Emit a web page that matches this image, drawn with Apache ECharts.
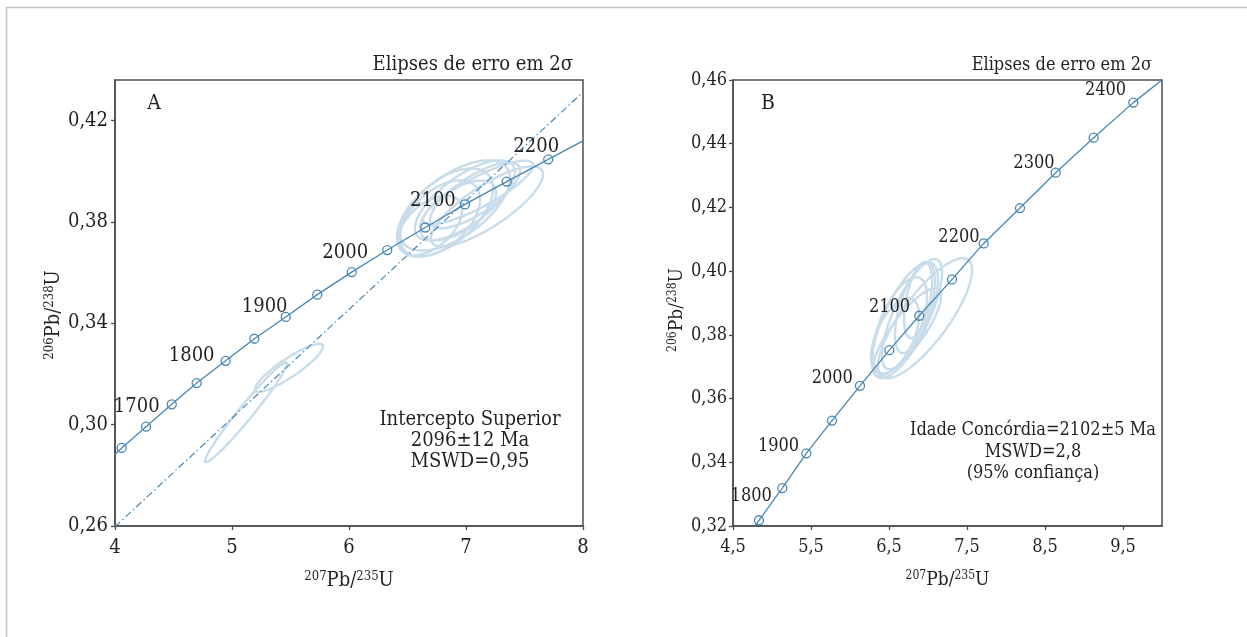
<!DOCTYPE html>
<html>
<head>
<meta charset="utf-8">
<script src="https://cdn.jsdelivr.net/npm/echarts@6/dist/echarts.min.js"></script>
<style>
html,body{margin:0;padding:0;background:#ffffff;}
#chart{width:1247px;height:637px;}
</style>
</head>
<body>
<div id="chart"></div>
<script>
// ---------------- DATA ----------------
// Panel A
const xTicksA = [4, 5, 6, 7, 8];
const yTicksA = [0.26, 0.30, 0.34, 0.38, 0.42];
const concordiaAX = [4.057, 4.265, 4.485, 4.698, 4.946, 5.191, 5.459, 5.729, 6.023, 6.327, 6.652, 6.991, 7.348, 7.703];
const concordiaAY = [0.2908, 0.2992, 0.3080, 0.3164, 0.3252, 0.3339, 0.3425, 0.3513, 0.3602, 0.3689, 0.3778, 0.3869, 0.3959, 0.4047];
const concordiaALabels = ['', '', '1700', '', '1800', '', '1900', '', '', '2000', '', '2100', '', '2200'];
const curveEndsAX = [4.0, 8.0];
const curveEndsAY = [0.2882, 0.4120];
const discordiaAX = [4.0, 8.0];
const discordiaAY = [0.2597, 0.4312];
const ellipseACx  = [7.179, 6.906, 6.821, 6.991, 6.778, 7.077, 6.692, 7.103, 6.932, 5.120, 5.487];
const ellipseACy  = [0.3861, 0.3865, 0.3837, 0.3885, 0.3814, 0.3905, 0.3786, 0.3916, 0.3845, 0.3049, 0.3224];
const ellipseASx  = [0.479, 0.470, 0.410, 0.427, 0.342, 0.385, 0.274, 0.470, 0.325, 0.350, 0.291];
const ellipseASy  = [0.0158, 0.0178, 0.0174, 0.0158, 0.0150, 0.0130, 0.0118, 0.0126, 0.0118, 0.0197, 0.00947];
const ellipseARho = [0.80, 0.60, 0.55, 0.70, 0.50, 0.75, 0.50, 0.85, 0.60, 0.975, 0.89];

// Panel B
const xTicksB = [4.5, 5.5, 6.5, 7.5, 8.5, 9.5];
const yTicksB = [0.32, 0.34, 0.36, 0.38, 0.40, 0.42, 0.44, 0.46];
const concordiaBX = [4.833, 5.132, 5.440, 5.769, 6.128, 6.504, 6.888, 7.308, 7.714, 8.179, 8.637, 9.124, 9.632];
const concordiaBY = [0.3218, 0.3319, 0.3428, 0.3531, 0.3640, 0.3752, 0.3860, 0.3974, 0.4087, 0.4198, 0.4309, 0.4419, 0.4529];
const concordiaBLabels = ['1800', '', '1900', '', '2000', '', '2100', '', '2200', '', '2300', '', '2400'];
const curveEndsBX = [4.781, 10.0];
const curveEndsBY = [0.3200, 0.4600];
const ellipseBCx  = [6.962, 6.705, 6.641, 6.795, 6.833, 6.577, 6.872, 6.731];
const ellipseBCy  = [0.3852, 0.3846, 0.3830, 0.3865, 0.3884, 0.3796, 0.3909, 0.3808];
const ellipseBSx  = [0.603, 0.423, 0.346, 0.385, 0.256, 0.308, 0.179, 0.436];
const ellipseBSy  = [0.01884, 0.0182, 0.0151, 0.0173, 0.0141, 0.0119, 0.0119, 0.0138];
const ellipseBRho = [0.80, 0.70, 0.60, 0.75, 0.60, 0.55, 0.50, 0.82];

// ---------------- STYLE / LAYOUT ----------------
const FONT = "'DejaVu Serif Condensed', 'DejaVu Serif', serif";
const TEXT = '#231f20';
const AXIS = '#4d4d4d';
const CURVE = '#4787b4';
const ELLIPSE = '#c9dcea';

const labelOffsetA = {'1700': [-2, 2], '1800': [-1, -5], '1900': [12, -10], '2000': [-9, 3], '2100': [1, -4], '2200': [21, -13]};
const labelOffsetB = {'1800': [23, -24], '1900': [3, -7], '2000': [3, -8], '2100': [1, -8], '2200': [6, -6], '2300': [9, -9], '2400': [3, -12]};

function fmt(dec) {
  return v => v.toFixed(dec).replace('.', ',');
}

function ellipseRender(params, api) {
  const cx = api.value(0), cy = api.value(1), sx = api.value(2), sy = api.value(3), r = api.value(4);
  const q = Math.sqrt(1 - r * r);
  const pts = [];
  const n = 120;
  for (let i = 0; i < n; i++) {
    const t = i / n * Math.PI * 2;
    const c = Math.cos(t), s = Math.sin(t);
    pts.push(api.coord([cx + sx * c, cy + sy * (r * c + q * s)]));
  }
  return {type: 'polygon', shape: {points: pts}, style: {fill: 'rgba(0,0,0,0)', stroke: ELLIPSE, lineWidth: 2.4}};
}

function zipEllipses(cx, cy, sx, sy, rho) {
  return cx.map((v, i) => [v, cy[i], sx[i], sy[i], rho[i]]);
}

function markerData(xs, ys, labels, offsets, fontSize) {
  return xs.map((x, i) => {
    const item = {value: [x, ys[i]]};
    if (labels[i]) {
      item.label = {
        show: true, position: 'left', distance: 5, formatter: labels[i],
        offset: offsets[labels[i]], fontSize: fontSize, fontFamily: FONT, color: TEXT, opacity: 1
      };
    }
    return item;
  });
}

function curveData(xs, ys, ends, endsY) {
  const d = [[ends[0], endsY[0]]];
  xs.forEach((x, i) => d.push([x, ys[i]]));
  d.push([ends[1], endsY[1]]);
  return d;
}

function axisName(top, bottom, big, small, pad) {
  return {
    name: '{s|' + top + '}{m|Pb/}{s|' + bottom + '}{m|U}',
    nameTextStyle: {
      padding: pad,
      rich: {
        s: {fontSize: small, lineHeight: small + 1, verticalAlign: 'top', fontFamily: FONT, color: TEXT},
        m: {fontSize: big, lineHeight: big + 2, fontFamily: FONT, color: TEXT}
      }
    }
  };
}

function makeXAxis(grid, min, max, ticks, dec, fs, nameGap, nm) {
  return Object.assign({
    type: 'value', gridIndex: grid, min: min, max: max,
    nameLocation: 'middle', nameGap: nameGap,
    axisLine: {show: true, onZero: false, lineStyle: {color: AXIS, width: 1.5}},
    axisTick: {show: true, customValues: ticks, length: 4, lineStyle: {color: AXIS, width: 1.3}},
    axisLabel: {customValues: ticks, margin: 12, fontSize: fs, fontFamily: FONT, color: TEXT, formatter: fmt(dec)},
    splitLine: {show: false}
  }, nm);
}

function makeYAxis(grid, min, max, ticks, dec, fs, nameGap, margin, nm) {
  return Object.assign({
    type: 'value', gridIndex: grid, min: min, max: max,
    nameLocation: 'middle', nameGap: nameGap, nameRotate: 90,
    axisLine: {show: true, onZero: false, lineStyle: {color: AXIS, width: 1.5}},
    axisTick: {show: true, customValues: ticks, length: 4, lineStyle: {color: AXIS, width: 1.3}},
    axisLabel: {customValues: ticks, margin: margin, fontSize: fs, fontFamily: FONT, color: TEXT, formatter: fmt(dec)},
    splitLine: {show: false}
  }, nm);
}

const chart = echarts.init(document.getElementById('chart'), null, {renderer: 'canvas'});

const option = {
  animation: false,
  backgroundColor: '#ffffff',
  grid: [
    {left: 115, top: 80, width: 468, height: 446, containLabel: false, show: true, borderColor: AXIS, borderWidth: 1.5, backgroundColor: 'rgba(0,0,0,0)'},
    {left: 733, top: 80, width: 429, height: 446, containLabel: false, show: true, borderColor: AXIS, borderWidth: 1.5, backgroundColor: 'rgba(0,0,0,0)'}
  ],
  xAxis: [
    makeXAxis(0, 4, 8, xTicksA, 0, 20, 44, axisName('207', '235', 20, 13, 0)),
    makeXAxis(1, 4.5, 10, xTicksB, 1, 18, 44, axisName('207', '235', 19, 12, 0))
  ],
  yAxis: [
    makeYAxis(0, 0.26, 0.436, yTicksA, 2, 20, 42, 7, axisName('206', '238', 20, 13, [0, 24, 0, 0])),
    makeYAxis(1, 0.32, 0.46, yTicksB, 2, 18, 41, 6, axisName('206', '238', 19, 12, [0, 14, 0, 0]))
  ],
  series: [
    {type: 'custom', xAxisIndex: 0, yAxisIndex: 0, renderItem: ellipseRender, silent: true, clip: true, z: 1,
     data: zipEllipses(ellipseACx, ellipseACy, ellipseASx, ellipseASy, ellipseARho)},
    {type: 'line', xAxisIndex: 0, yAxisIndex: 0, data: curveData(concordiaAX, concordiaAY, curveEndsAX, curveEndsAY),
     showSymbol: false, symbol: 'none', smooth: false, clip: true, silent: true, z: 3,
     lineStyle: {color: CURVE, width: 1.3}},
    {type: 'line', xAxisIndex: 0, yAxisIndex: 0, data: discordiaAX.map((x, i) => [x, discordiaAY[i]]),
     symbol: 'none', clip: true, silent: true, z: 2,
     lineStyle: {color: CURVE, width: 1.2, type: [7, 3, 1.5, 3]}},
    {type: 'scatter', xAxisIndex: 0, yAxisIndex: 0, symbol: 'circle', symbolSize: 9, silent: true, z: 4,
     itemStyle: {color: 'rgba(255,255,255,0)', borderColor: CURVE, borderWidth: 1.3, opacity: 1},
     data: markerData(concordiaAX, concordiaAY, concordiaALabels, labelOffsetA, 20)},

    {type: 'custom', xAxisIndex: 1, yAxisIndex: 1, renderItem: ellipseRender, silent: true, clip: true, z: 1,
     data: zipEllipses(ellipseBCx, ellipseBCy, ellipseBSx, ellipseBSy, ellipseBRho)},
    {type: 'line', xAxisIndex: 1, yAxisIndex: 1, data: curveData(concordiaBX, concordiaBY, curveEndsBX, curveEndsBY),
     showSymbol: false, symbol: 'none', clip: true, silent: true, z: 3,
     lineStyle: {color: CURVE, width: 1.3}},
    {type: 'scatter', xAxisIndex: 1, yAxisIndex: 1, symbol: 'circle', symbolSize: 9, silent: true, z: 4,
     itemStyle: {color: 'rgba(255,255,255,0)', borderColor: CURVE, borderWidth: 1.3, opacity: 1},
     data: markerData(concordiaBX, concordiaBY, concordiaBLabels, labelOffsetB, 18)}
  ],
  graphic: [
    {type: 'polyline', silent: true, z: 0,
     shape: {points: [[6.5, 700], [6.5, 7.5], [1300, 7.5]]}, style: {fill: null, stroke: '#c4c4c4', lineWidth: 1.5}},
    {type: 'text', x: 573, y: 65, silent: true,
     style: {text: 'Elipses de erro em 2σ', fill: TEXT, font: '20px ' + FONT, textAlign: 'right', textVerticalAlign: 'middle'}},
    {type: 'text', x: 1152, y: 65, silent: true,
     style: {text: 'Elipses de erro em 2σ', fill: TEXT, font: '18px ' + FONT, textAlign: 'right', textVerticalAlign: 'middle'}},
    {type: 'text', x: 154, y: 104, silent: true,
     style: {text: 'A', fill: TEXT, font: '21px ' + FONT, textAlign: 'center', textVerticalAlign: 'middle'}},
    {type: 'text', x: 768, y: 104, silent: true,
     style: {text: 'B', fill: TEXT, font: '21px ' + FONT, textAlign: 'center', textVerticalAlign: 'middle'}},
    {type: 'text', x: 470, y: 441, silent: true,
     style: {text: 'Intercepto Superior\n2096±12 Ma\nMSWD=0,95', fill: TEXT, font: '20px ' + FONT, lineHeight: 21,
             textAlign: 'center', textVerticalAlign: 'middle'}},
    {type: 'text', x: 1033, y: 452, silent: true,
     style: {text: 'Idade Concórdia=2102±5 Ma\nMSWD=2,8\n(95% confiança)', fill: TEXT, font: '18px ' + FONT, lineHeight: 21.5,
             textAlign: 'center', textVerticalAlign: 'middle'}}
  ]
};

chart.setOption(option);
</script>
</body>
</html>
